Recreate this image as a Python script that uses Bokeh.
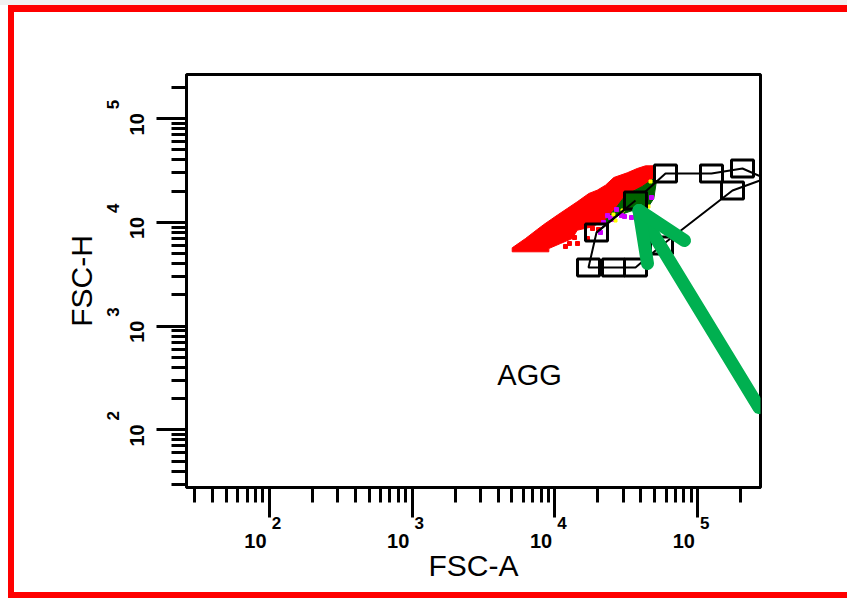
from bokeh.plotting import figure
from bokeh.models import FixedTicker, Range1d, ColumnDataSource, LogAxis
from bokeh.embed import file_html
from bokeh.resources import INLINE
from bokeh.core.properties import value

# ---------------- axes ----------------
x_limits = [26.3, 275300]
y_limits = [27.78, 266900]
major_ticks = [100, 1000, 10000, 100000]
tick_base = ["10", "10", "10", "10"]
tick_exponents = ["2", "3", "4", "5"]
minor_mantissas = [2, 3, 4, 5, 6, 7, 8, 9]
decades = [10, 100, 1000, 10000, 100000]
x_title = "FSC-A"
y_title = "FSC-H"

# ---------------- red population (outline of the event cloud) ----------------
pop_x = [5023, 6226, 7518, 8362, 10378, 12190, 14330, 17280, 19780, 22610, 25850, 32090, 37690, 43100,
         49270, 49270, 40870, 31220, 26570, 22610, 18250, 14330, 13220, 10940, 9064, 9064, 5023]
pop_y = [5690, 6993, 8541, 9546, 11730, 13610, 15800, 19000, 20450, 22840, 27100, 30080, 33100, 35140,
         35140, 26500, 22190, 18300, 13610, 10500, 9070, 8410, 6993, 6260, 5603, 5206, 5206]
stray_x = [11860, 13720, 11860, 14400, 16910, 12650, 18340, 20200]
stray_y = [8170, 7152, 5856, 6260, 6993, 6260, 8734, 8541]

# ---------------- gated (dark green) events ----------------
grn_x = [22610, 26570, 31220, 40870, 49270, 51470, 49270, 44300, 36680, 28030, 22610]
grn_y = [10500, 13610, 18300, 22190, 26500, 25360, 17000, 13610, 13310, 11730, 9759]
purple_x = [23350, 24510, 29280, 30720, 27010, 32770, 40410, 47490, 34390, 20860, 21890, 25320]
purple_y = [11650, 11150, 11650, 11400, 13310, 17770, 14560, 17390, 11150, 7990, 9977, 10660]
yellow_x = [46720, 25730, 26570, 32770, 45230, 29750]
yellow_y = [24800, 11920, 10430, 17390, 14230, 13030]

# ---------------- AGG gate polygon ----------------
gate_x = [17190, 25730, 36680, 55780, 175300, 298400, 205900, 124900, 59500, 36680, 19560]
gate_y = [3674, 3674, 3674, 5990, 20310, 26500, 33100, 29620, 29620, 16270, 7990]
handle_x = [17190, 25730, 36680, 55780, 175300, 205900, 124900, 59500, 36680, 19560]
handle_y = [3674, 3674, 3674, 5990, 20310, 33100, 29620, 29620, 16270, 7990]
handle_fill = [None, None, None, None, None, None, None, None, "#006400", None]
gate_name = "AGG"
gate_name_x = 6640
gate_name_y = 341.5

# ---------------- green arrow ----------------
arrow_xs = [[268800, 38810], [38810, 44500], [38810, 80830]]
arrow_ys = [[164.1, 13020], [13020, 4015], [13020, 6689]]

FONT = "Liberation Sans"
NB = "\u00a0"

p = figure(width=847, height=598, x_axis_type="log", y_axis_type="log",
           x_range=Range1d(*x_limits), y_range=Range1d(*y_limits),
           output_backend="svg", toolbar_location=None,
           min_border_left=186, min_border_right=87,
           min_border_top=74, min_border_bottom=111)
p.background_fill_color = "white"
p.border_fill_alpha = 0
p.outline_line_color = "black"
p.outline_line_width = 3
p.grid.visible = False

# page frame (red border drawn behind the transparent canvas border)
p.styles = {
    "background-color": "white",
    "background-image": ("linear-gradient(#FF0000,#FF0000), linear-gradient(#FF0000,#FF0000), "
                         "linear-gradient(#FF0000,#FF0000), linear-gradient(#F0F0F0,#F0F0F0)"),
    "background-size": "839px 7px, 6px 593px, 839px 6px, 847px 5px",
    "background-position": "8px 5px, 8px 5px, 8px 592px, 0px 0px",
    "background-repeat": "no-repeat",
}

minor = [m * d for d in decades for m in minor_mantissas]


def style_common(ax):
    ax.major_label_text_font = FONT
    ax.major_label_text_font_style = "bold"
    ax.major_label_text_color = "black"
    ax.axis_label_text_font = FONT
    ax.axis_label_text_font_style = "normal"
    ax.axis_label_text_font_size = "30px"
    ax.axis_label_text_color = "black"


# primary axes: ticks
for ax in (p.xaxis[0], p.yaxis[0]):
    ax.ticker = FixedTicker(ticks=major_ticks, minor_ticks=minor)
    ax.axis_line_width = 3
    ax.major_tick_line_width = 3
    ax.minor_tick_line_width = 3
    ax.major_tick_in = 0
    ax.major_tick_out = 30
    ax.minor_tick_in = 0
    ax.minor_tick_out = 15
    style_common(ax)

# x: exponents sit closest to the axis, "10" below them
xa = p.xaxis[0]
xa.major_label_overrides = {t: NB * 3 + e for t, e in zip(major_ticks, tick_exponents)}
xa.major_label_text_font_size = "17px"
xa.major_label_standoff = -4

xb = LogAxis(ticker=FixedTicker(ticks=major_ticks, minor_ticks=[]))
xb.major_label_overrides = {t: b + NB * 5 for t, b in zip(major_ticks, tick_base)}
xb.axis_line_color = None
xb.major_tick_out = 0
xb.major_tick_in = 0
xb.minor_tick_out = 0
xb.minor_tick_in = 0
xb.major_tick_line_color = None
xb.minor_tick_line_color = None
style_common(xb)
xb.major_label_text_font_size = "20px"
xb.major_label_standoff = -6
xb.axis_label = x_title
xb.axis_label_standoff = -6
p.add_layout(xb, "below")

# y: "10" closest to the axis, exponents further out (text reads upward)
ya = p.yaxis[0]
ya.major_label_overrides = {t: b + NB * 2 for t, b in zip(major_ticks, tick_base)}
ya.major_label_text_font_size = "20px"
ya.major_label_orientation = "vertical"
ya.major_label_standoff = 8

yb = LogAxis(ticker=FixedTicker(ticks=major_ticks, minor_ticks=[]))
yb.major_label_overrides = {t: NB * 6 + e for t, e in zip(major_ticks, tick_exponents)}
yb.axis_line_color = None
yb.major_tick_out = 0
yb.major_tick_in = 0
yb.minor_tick_out = 0
yb.minor_tick_in = 0
yb.major_tick_line_color = None
yb.minor_tick_line_color = None
style_common(yb)
yb.major_label_text_font_size = "17px"
yb.major_label_orientation = "vertical"
yb.major_label_standoff = 0
yb.axis_label = y_title
yb.axis_label_standoff = 4
p.add_layout(yb, "left")

# events
p.patch(pop_x, pop_y, fill_color="#FF0000", line_color="#FF0000", line_width=1)
p.scatter(stray_x, stray_y, marker="square", size=4, color="#FF0000")
p.patch(grn_x, grn_y, fill_color="#006400", line_color="#006400", line_width=1)
p.scatter(purple_x, purple_y, marker="square", size=4, color="#CC00FF")
p.scatter(yellow_x, yellow_y, marker="square", size=3, color="#FFFF00")

# gate
p.patch(gate_x, gate_y, fill_alpha=0, line_color="black", line_width=2)
hsrc = ColumnDataSource(dict(x=handle_x, y=handle_y,
                             f=[c if c else "white" for c in handle_fill],
                             a=[1.0 if c else 0.0 for c in handle_fill]))
p.rect("x", "y", width=22, height=17, width_units="screen", height_units="screen",
       fill_color="f", fill_alpha="a", line_color="black", line_width=3, source=hsrc)
p.line([handle_x[-1], handle_x[-2]], [handle_y[-1], handle_y[-2]], line_color="black", line_width=2)

p.text(x=[gate_name_x], y=[gate_name_y], text=[gate_name], text_font=value(FONT),
       text_font_size="29px", text_align="center", text_baseline="middle", text_color="black")

# arrow
p.multi_line(arrow_xs, arrow_ys, line_color="#00B050", line_width=13, line_cap="round")

open("out.html", "w").write(file_html(p, INLINE))
